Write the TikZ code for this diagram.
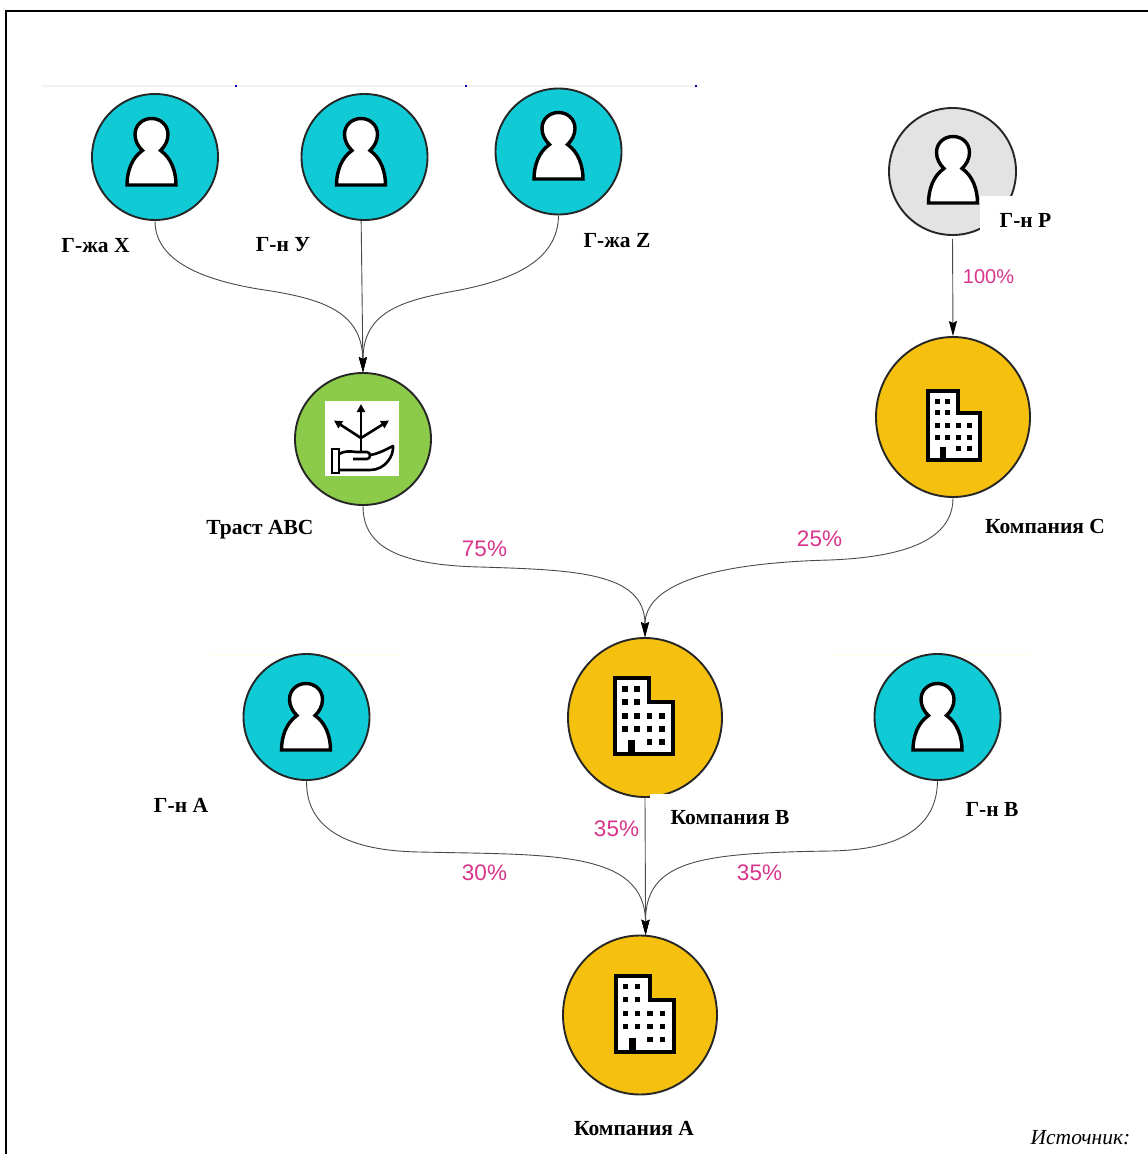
\documentclass[tikz,border=0pt]{standalone}
\usepackage{fontspec}
\setmainfont{Liberation Serif}
\newfontfamily\pctfont{Liberation Sans}
\usetikzlibrary{shapes.geometric,arrows.meta,calc}
\definecolor{tealc}{HTML}{10CBD6}
\definecolor{goldc}{HTML}{F5C10E}
\definecolor{greenc}{HTML}{8BCB49}
\definecolor{greyc}{HTML}{E3E3E3}
\definecolor{pinkc}{HTML}{D9358A}
\definecolor{linkc}{HTML}{4A4A4A}
\tikzset{
  disc/.style={ellipse,draw=black!85,line width=1.9pt,inner sep=0pt,minimum width=#1,minimum height=#1},
  link/.style={draw=linkc,line width=.9pt,-{Stealth[length=15pt,width=8pt,inset=2pt,color=black,fill=black]}},
  plain link/.style={draw=linkc,line width=.9pt},
  name label/.style={font=\fontsize{21.5}{24}\selectfont\bfseries,inner sep=0pt},
  pct/.style={font=\fontsize{22.5}{26}\selectfont\pctfont,text=pinkc,inner sep=0pt},
  person/.pic={
    \draw[fill=white,line width=3.4pt,line join=miter]
      (-24.5,0) .. controls (-24.5,-13) and (-20,-27) .. (-9,-34.5)
      .. controls (-13,-38) and (-16.5,-44) .. (-16.5,-50.5)
      .. controls (-16.5,-60) and (-9,-66.5) .. (0,-66.5)
      .. controls (9,-66.5) and (16.5,-60) .. (16.5,-50.5)
      .. controls (16.5,-44) and (13,-38) .. (9,-34.5)
      .. controls (20,-27) and (24.5,-13) .. (24.5,0) -- cycle;
  },
  tower/.pic={
    \draw[fill=white,line width=4pt,miter limit=4]
      (-29,-38) -- (5,-38) -- (5,-14) -- (29,-14) -- (29,38) -- (-29,38) -- cycle;
    \foreach \wx/\wy in {-19/-27,-7/-27,-19/-14,-7/-14,-19/0,-7/0,5.5/0,18/0,-19/13,-7/13,5.5/13,18/13,5.5/26,18/26}
      \fill[black] (\wx-2.8,\wy-2.8) rectangle (\wx+2.8,\wy+2.8);
    \fill[black] (-16,24) rectangle (-9,38);
  },
}
\begin{document}
\begin{tikzpicture}[x=1pt,y=-1pt]
\useasboundingbox (0,0) rectangle (1148,1154);
\fill[white] (0,0) rectangle (1148,1154);
% frame
\draw[black,line width=2.4pt] (6,1154) -- (6,11) -- (1148,11);
% faint rules
\draw[black!5,line width=1.2pt] (42,86) -- (700,86);
\draw[yellow!6,line width=1.2pt] (210,655) -- (400,655);
\draw[yellow!6,line width=1.2pt] (830,655) -- (1030,655);
\foreach \tx in {236,466,696} \fill[blue!70!black] (\tx-.8,84.5) rectangle (\tx+.8,87);
% nodes
\node[disc=126pt,fill=tealc] (mx) at (155,157) {};
\node[disc=126pt,fill=tealc] (my) at (364.5,157) {};
\node[disc=126pt,fill=tealc] (mz) at (558.5,151.5) {};
\node[disc=127pt,fill=greyc] (mp) at (952.5,171.5) {};
\node[disc=132pt,minimum width=136pt,fill=greenc] (trust) at (363,439) {};
\node[disc=160pt,minimum width=154pt,fill=goldc] (cc) at (953,417) {};
\node[disc=159pt,minimum width=154pt,fill=goldc] (cb) at (645,717.5) {};
\node[disc=126pt,fill=tealc] (ma) at (306.5,717) {};
\node[disc=126pt,fill=tealc] (mb) at (937.5,717) {};
\node[disc=159pt,minimum width=154pt,fill=goldc] (ca) at (640,1015) {};
% icons
\pic at (151.5,185) {person};
\pic at (361,185) {person};
\pic at (558.5,179) {person};
\pic at (953,203) {person};
\pic at (306,750) {person};
\pic at (937.5,750) {person};
\pic at (644,716) {tower};
\pic at (644.5,1013.5) {tower};
\pic[xscale=.88,yscale=.9] at (954,425.5) {tower};
% trust icon
\fill[white] (325,401) rectangle (399,476);
\begin{scope}[black,line width=2.6pt]
  \draw[-{Stealth[length=8pt,width=8pt,inset=0pt]}] (361,451) -- (361,404);
  \draw[-{Stealth[length=8pt,width=8pt,inset=0pt]}] (361,438) -- (334,420.5);
  \draw[-{Stealth[length=8pt,width=8pt,inset=0pt]}] (361,438) -- (389,420.5);
  \draw (332,449) rectangle (339,473);
  \draw[line join=round] (339,454) .. controls (344,451) and (350,451) .. (356,452) -- (367,452)
    .. controls (371,452) and (371,459) .. (367,459) -- (353,459);
  \draw[line join=round] (370,455) .. controls (378,454) and (387,449) .. (393,446)
    .. controls (394,456) and (385,470) .. (370,470) -- (339,470);
\end{scope}
% connectors
\draw[plain link] (mx.south) .. controls (155,262) and (205,280) .. (258,289);
\draw[link] (258,289) .. controls (320,298) and (362,310) .. (trust.north);
\draw[link] (my.267) -- (trust.north);
\draw[plain link] (mz.south) .. controls (558,262) and (510,280) .. (460,290);
\draw[link] (460,290) .. controls (405,300) and (363,310) .. (trust.north);
\draw[link,shorten <=3pt] (mp.south) -- (cc.north);
\draw[plain link] (trust.south) .. controls (363,545) and (395,565) .. (480,567);
\draw[link] (480,567) .. controls (575,570) and (645,572) .. (cb.north);
\draw[plain link] (cc.south) .. controls (953,540) and (905,557) .. (830,560);
\draw[link] (830,560) .. controls (710,563) and (645,585) .. (cb.north);
\draw[plain link] (ma.south) .. controls (306,830) and (350,851) .. (420,852);
\draw[link] (420,852) .. controls (550,855) and (645,850) .. (ca.86);
\draw[plain link] (mb.south) .. controls (937,830) and (895,850) .. (830,851);
\draw[link] (830,851) .. controls (700,853) and (645,860) .. (ca.86);
\draw[link] (cb.south) -- (ca.86);
% labels
\node[name label] (lx) at (95.5,245.5) {Г-жа X};
\node[name label] (ly) at (283,244.5) {Г-н У};
\node[name label] (lz) at (617,240.5) {Г-жа Z};
\node[name label,fill=white,minimum width=80pt,minimum height=48pt] (lp) at (1020,220) {\hspace*{11pt}Г-н Р};
\node[name label] (lt) at (260,529.5) {Траст АВС};
\node[name label] (lc) at (1045,526.5) {Компания С};
\node[name label] (la) at (181,805.5) {Г-н А};
\node[name label,fill=white,minimum width=160pt,minimum height=48pt] (lb) at (730,817.5) {Компания В};
\node[name label] (lv) at (992,809.5) {Г-н В};
\node[name label] (lca) at (634,1128.5) {Компания А};
\node[font=\fontsize{21.5}{24}\selectfont\itshape,inner sep=0pt] (src) at (1080.5,1137.5) {Источник:};
\node[pct,font=\fontsize{20}{26}\selectfont\pctfont] (p100) at (988.5,277) {100\%};
\node[pct] (p75) at (484.5,549) {75\%};
\node[pct] (p25) at (819.5,539) {25\%};
\node[pct] (p35a) at (616.5,829) {35\%};
\node[pct] (p30) at (484.5,873) {30\%};
\node[pct] (p35b) at (759.5,873) {35\%};
\end{tikzpicture}
\end{document}
